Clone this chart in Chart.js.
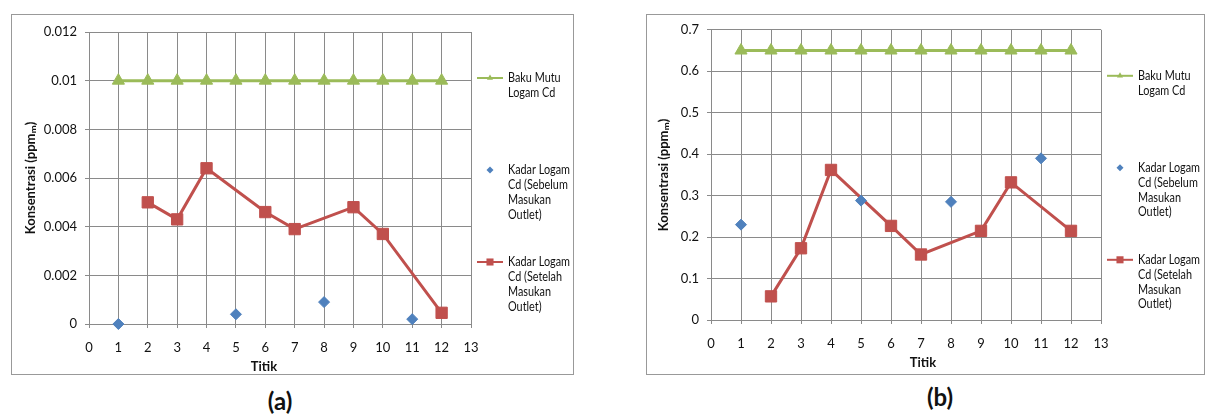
<!DOCTYPE html>
<html>
<head>
<meta charset="utf-8">
<script src="https://cdn.jsdelivr.net/npm/chart.js@4.4.1/dist/chart.umd.min.js"></script>
<style>
  html, body { margin: 0; padding: 0; background: #fff; }
  body { width: 1210px; height: 419px; position: relative; overflow: hidden; font-family: Lato, 'Open Sans', sans-serif; }
  .panel { position: absolute; }
  .caption { position: absolute; width: 80px; text-align: center; font-weight: bold; font-size: 24px; line-height: 28px; color: #111; }
</style>
</head>
<body>
<canvas id="chartA" class="panel" width="563" height="361" style="left:11px;top:14px"></canvas>
<canvas id="chartB" class="panel" width="559" height="361" style="left:646px;top:14px"></canvas>
<div class="caption" style="left:240px;top:387px">(a)</div>
<div class="caption" style="left:900px;top:383px">(b)</div>
<script>
// titik (sampling points) per series
const titikBaku = [1, 2, 3, 4, 5, 6, 7, 8, 9, 10, 11, 12]
const titikSebelum = [1, 5, 8, 11]
const titikSetelah = [2, 3, 4, 6, 7, 9, 10, 12]

// (a)
const bakuA = [0.01, 0.01, 0.01, 0.01, 0.01, 0.01, 0.01, 0.01, 0.01, 0.01, 0.01, 0.01]
const sebelumA = [0, 0.0004, 0.0009, 0.0002]
const setelahA = [0.005, 0.0043, 0.0064, 0.0046, 0.0039, 0.0048, 0.0037, 0.00046]

// (b)
const bakuB = [0.65, 0.65, 0.65, 0.65, 0.65, 0.65, 0.65, 0.65, 0.65, 0.65, 0.65, 0.65]
const sebelumB = [0.23, 0.288, 0.285, 0.39]
const setelahB = [0.057, 0.173, 0.362, 0.227, 0.158, 0.215, 0.332, 0.215]

const legendBaku = ['Baku Mutu', 'Logam Cd']
const legendSebelum = ['Kadar Logam', 'Cd (Sebelum', 'Masukan', 'Outlet)']
const legendSetelah = ['Kadar Logam', 'Cd (Setelah', 'Masukan', 'Outlet)']

const yTitle = 'Konsentrasi (ppm\u2098)'
const xTitle = 'Titik'

const GRID = '#8a8a8a'
const TEXT = '#111'
const FONT = 'Lato, "Open Sans", sans-serif'

const toPoints = (xs, ys) => xs.map((x, i) => ({ x: x, y: ys[i] }))

// white page + grey box round each chart
const frame = {
  id: 'frame',
  beforeDraw(chart) {
    const ctx = chart.ctx
    ctx.save()
    ctx.fillStyle = '#fff'
    ctx.fillRect(0, 0, chart.width, chart.height)
    ctx.strokeStyle = '#999'
    ctx.lineWidth = 1
    ctx.strokeRect(0.5, 0.5, chart.width - 1, chart.height - 1)
    ctx.restore()
  }
}

// x title was nudged off centre in the original, so draw it here
const xTitlePlugin = {
  id: 'xTitle',
  afterDraw(chart, args, opts) {
    const ctx = chart.ctx
    const area = chart.chartArea
    ctx.save()
    ctx.font = 'bold 13px ' + FONT
    ctx.fillStyle = TEXT
    ctx.textAlign = 'center'
    ctx.textBaseline = 'middle'
    ctx.fillText(opts.text, (area.left + area.right) / 2 + opts.shift, chart.height - opts.fromBottom)
    ctx.restore()
  }
}

// excel style legend on the right, labels wrapped over several lines
const sideLegend = {
  id: 'sideLegend',
  afterDraw(chart, args, opts) {
    const ctx = chart.ctx
    const area = chart.chartArea
    const x0 = area.right + opts.lineStart
    const x1 = area.right + opts.lineEnd
    ctx.save()
    ctx.font = opts.font
    ctx.textBaseline = 'middle'
    ctx.textAlign = 'left'
    const squeeze = opts.maxWidth / ctx.measureText('Kadar Logam').width
    chart.data.datasets.forEach((ds, i) => {
      const y = area.top + opts.top + i * opts.slot
      if (ds.showLine) {
        ctx.strokeStyle = ds.borderColor
        ctx.lineWidth = 2
        ctx.beginPath()
        ctx.moveTo(x0, y)
        ctx.lineTo(x1, y)
        ctx.stroke()
      }
      ctx.fillStyle = ds.pointBackgroundColor
      Chart.helpers.drawPoint(ctx, { pointStyle: ds.pointStyle, rotation: 0, radius: ds.legendRadius, borderWidth: 0 }, (x0 + x1) / 2, y)
      ctx.fillStyle = TEXT
      ds.legendText.forEach((t, j) => {
        // squeeze a little, the source used a narrow font
        const w = ctx.measureText(t).width * Math.min(1, squeeze)
        ctx.fillText(t, area.right + opts.textX, y + j * opts.lineH, w)
      })
    })
    ctx.restore()
  }
}

function buildChart(id, cfg) {
  return new Chart(document.getElementById(id), {
    type: 'scatter',
    data: {
      datasets: [
        {
          label: legendBaku.join(' '),
          legendText: legendBaku,
          legendRadius: 3.5,
          data: toPoints(titikBaku, cfg.baku),
          showLine: true,
          borderColor: '#9bbb59',
          borderWidth: 3,
          pointStyle: 'triangle',
          pointRadius: 7,
          pointBackgroundColor: '#9bbb59',
          pointBorderColor: '#9bbb59',
          pointBorderWidth: 1,
          clip: false,
          order: 3
        },
        {
          label: legendSebelum.join(' '),
          legendText: legendSebelum,
          legendRadius: 3.5,
          data: toPoints(titikSebelum, cfg.sebelum),
          showLine: false,
          borderColor: '#4f81bd',
          pointStyle: 'rectRot',
          pointRadius: 5.5,
          pointBackgroundColor: '#4f81bd',
          pointBorderColor: '#4f81bd',
          pointBorderWidth: 1,
          clip: false,
          order: 1
        },
        {
          label: legendSetelah.join(' '),
          legendText: legendSetelah,
          legendRadius: 5,
          data: toPoints(titikSetelah, cfg.setelah),
          showLine: true,
          borderColor: '#c0504d',
          borderWidth: 3,
          pointStyle: 'rect',
          pointRadius: 8,
          pointBackgroundColor: '#c0504d',
          pointBorderColor: '#c0504d',
          pointBorderWidth: 1,
          clip: false,
          order: 2
        }
      ]
    },
    options: {
      responsive: false,
      animation: false,
      events: [],
      layout: {
        padding: { left: 0, top: cfg.padTop, right: cfg.padRight, bottom: 0 }
      },
      plugins: {
        legend: { display: false },
        tooltip: { enabled: false },
        xTitle: { text: xTitle, shift: cfg.xTitleShift, fromBottom: cfg.xTitleFromBottom },
        sideLegend: { font: '13px ' + FONT, top: 46, slot: 92, lineH: 14.8, lineStart: 6, lineEnd: 32, textX: 37, maxWidth: 62 }
      },
      scales: {
        x: {
          type: 'linear',
          min: 0,
          max: 13,
          ticks: { stepSize: 1, color: TEXT, padding: 12, font: { family: FONT, size: 13 } },
          grid: { color: GRID, lineWidth: 1, tickLength: 4, tickColor: GRID },
          border: { color: GRID },
          afterFit: (scale) => { scale.height = cfg.xHeight }
        },
        y: {
          type: 'linear',
          min: 0,
          max: cfg.yMax,
          ticks: {
            stepSize: cfg.yStep,
            color: TEXT,
            padding: 8,
            font: { family: FONT, size: 13 },
            callback: (v) => String(Number(v.toFixed(4)))
          },
          grid: { color: GRID, lineWidth: 1, tickLength: 4, tickColor: GRID },
          border: { color: GRID },
          title: { display: true, text: yTitle, color: TEXT, font: { family: FONT, size: 13, weight: 'bold' }, padding: { top: cfg.yTitlePad, bottom: 0 } },
          afterFit: (scale) => { scale.width = cfg.yWidth }
        }
      }
    },
    plugins: [frame, sideLegend, xTitlePlugin]
  })
}

buildChart('chartA', {
  baku: bakuA, sebelum: sebelumA, setelah: setelahA,
  yMax: 0.012, yStep: 0.002,
  padTop: 18, padRight: 103, yWidth: 78, xHeight: 51,
  xTitleShift: -16, xTitleFromBottom: 8, yTitlePad: 12
})

buildChart('chartB', {
  baku: bakuB, sebelum: sebelumB, setelah: setelahB,
  yMax: 0.7, yStep: 0.1,
  padTop: 10, padRight: 104, yWidth: 65, xHeight: 55,
  xTitleShift: 17, xTitleFromBottom: 12, yTitlePad: 10
})
</script>
</body>
</html>
